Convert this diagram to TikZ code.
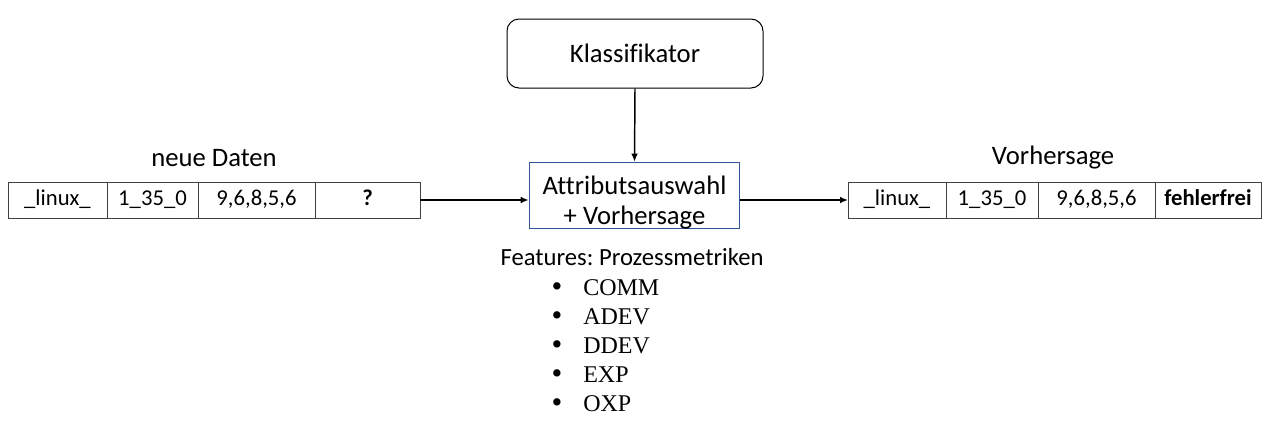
\documentclass[tikz,border=0pt]{standalone}
\usepackage{fontspec}
\setmainfont{Carlito}[Ligatures=NoCommon]
\newfontfamily\listfont{Liberation Serif}
\usepackage{tikz}
\usetikzlibrary{arrows.meta, positioning, calc}
\definecolor{boxblue}{HTML}{2F5597}
\frenchspacing

\begin{document}
\begin{tikzpicture}[x=0.75pt, y=-0.75pt,
  cell/.style={draw=black!75, line width=0.75pt, minimum height=27pt, inner sep=0pt, outer sep=0pt, text height=11.5pt, text depth=3.5pt, font=\fontsize{17}{20}\selectfont},
  title/.style={font=\fontsize{20}{24}\selectfont},
  flow/.style={line width=1.1pt, -{Latex[length=6pt, width=5pt]}},
  featitem/.style={font=\listfont\fontsize{18}{21}\selectfont, inner sep=0pt}]

  \useasboundingbox (0,0) rectangle (1280,429);

  % Klassifikator and the prediction step
  \node[draw, line width=0.75pt, rounded corners=9pt, minimum width=192pt, minimum height=51.75pt, title] (klass) at (635,53.5) {Klassifikator};
  \node[draw=boxblue, line width=0.75pt, minimum width=158pt, minimum height=48.75pt, align=center, title, inner sep=0pt] (pred) at (634.5,195.5) {\rule{0pt}{24pt}Attributsauswahl\\[-1.5pt]+ Vorhersage};

  % new data row
  \node[cell, minimum width=74.25pt, anchor=west] (newA) at (8,200) {\_linux\_};
  \node[cell, minimum width=68.25pt, right=0pt of newA] (newB) {1\_35\_0};
  \node[cell, minimum width=87.75pt, right=0pt of newB] (newC) {9,6,8,5,6};
  \node[cell, minimum width=78.75pt, right=0pt of newC] (newD) {\textbf{?}};
  \node[title] (newT) at (214,158) {neue Daten};

  % predicted row
  \node[cell, minimum width=73.5pt, anchor=west] (outA) at (848,200) {\_linux\_};
  \node[cell, minimum width=69pt, right=0pt of outA] (outB) {1\_35\_0};
  \node[cell, minimum width=87.75pt, right=0pt of outB] (outC) {9,6,8,5,6};
  \node[cell, minimum width=79.5pt, right=0pt of outC] (outD) {\textbf{fehlerfrei}};
  \node[title] (outT) at (1053,158) {Vorhersage};

  \draw[flow] (klass.south) -- (pred.north);
  \draw[flow] (newD.east) -- (newD.east -| pred.west);
  \draw[flow] (newD.east -| pred.east) -- (outA.west);

  % features
  \node[font=\fontsize{18.5}{22}\selectfont] (feat) at (632,257) {Features: Prozessmetriken};
  \foreach \m [count=\i] in {COMM,ADEV,DDEV,EXP,OXP} {
    \node[featitem, font=\listfont\fontsize{23}{25}\selectfont, anchor=base] (dot\i) at (557,{267+29*\i}) {\textbullet};
    \node[featitem, anchor=base west] (feat\i) at (583,{266+29*\i}) {\m};
  }

\end{tikzpicture}
\end{document}
